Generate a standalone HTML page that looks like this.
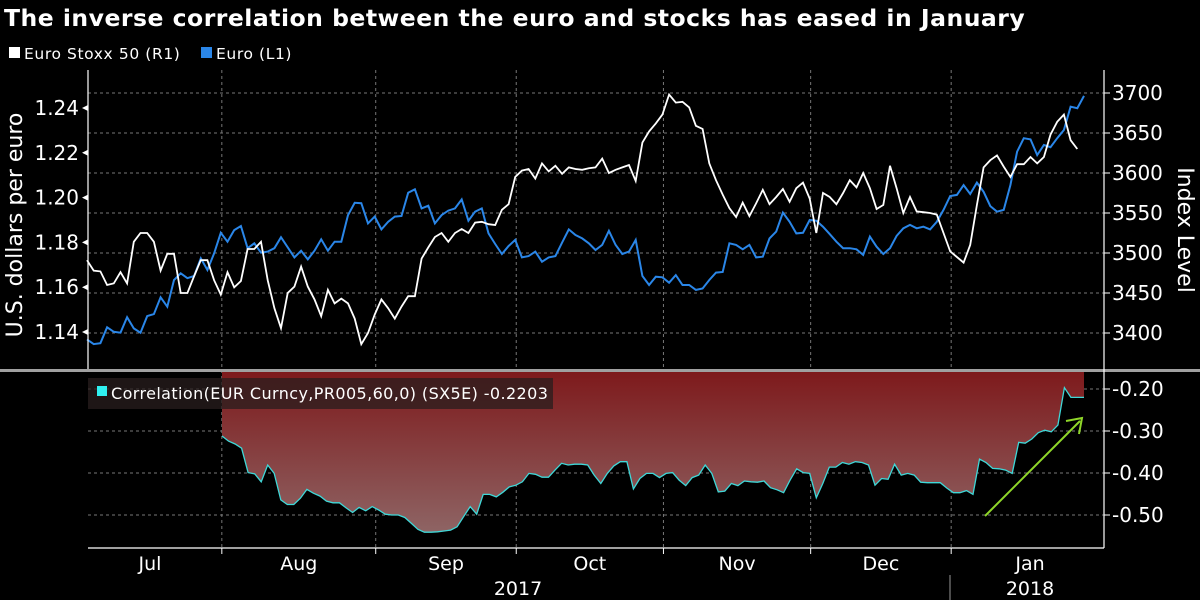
<!DOCTYPE html>
<html><head><meta charset="utf-8"><style>
html,body{margin:0;padding:0;background:#000;width:1200px;height:600px;overflow:hidden}
svg{display:block;font-family:"DejaVu Sans","Liberation Sans",sans-serif}
</style></head><body>
<svg id="chart" width="1200" height="600" viewBox="0 0 1200 600">
<defs>
<linearGradient id="corrGrad" x1="0" y1="0" x2="0" y2="1">
<stop offset="0" stop-color="#7e1a1c"/><stop offset="1" stop-color="#8e6464"/>
</linearGradient>
</defs>
<text x="4" y="26" fill="#fff" font-size="23.5" font-weight="bold" letter-spacing="0.5">The inverse correlation between the euro and stocks has eased in January</text>
<g>
<rect x="9" y="47" width="11" height="11" fill="#fff"/>
<text x="24" y="59" fill="#fff" font-size="15.5" letter-spacing="0.6">Euro Stoxx 50 (R1)</text>
<rect x="201" y="47" width="11" height="11" fill="#2a86e8"/>
<text x="216" y="59" fill="#fff" font-size="15.5" letter-spacing="0.6">Euro (L1)</text>
</g>
<g id="grid"></g>
<g id="lower"></g>
<g id="upper"></g>
<g id="axes"></g>
<text transform="translate(22,225) rotate(-90)" text-anchor="middle" fill="#fff" font-size="22">U.S. dollars per euro</text>
<text transform="translate(1178,230) rotate(90)" text-anchor="middle" fill="#fff" font-size="22">Index Level</text>
</svg>
<script>
const stoxx=[3491,3478,3477,3460,3462,3476,3462,3514,3525,3525,3514,3478,3499,3499,3450,3450,3471,3491,3491,3466,3448,3476,3457,3465,3505,3505,3514,3466,3431,3406,3450,3458,3483,3458,3442,3421,3454,3437,3443,3437,3418,3386,3400,3423,3442,3431,3418,3433,3446,3446,3493,3507,3520,3525,3514,3525,3530,3525,3538,3539,3536,3535,3554,3561,3595,3603,3605,3593,3612,3602,3609,3599,3607,3605,3604,
3606,3607,3618,3600,3604,3607,3610,3590,3638,3652,3662,3673,3698,3688,3689,3682,3659,3655,3612,3591,3573,3556,3545,3563,3546,3562,3579,3561,3570,3580,3564,3581,3588,3568,3525,3575,3570,3561,3575,3591,3582,3600,3581,3555,3560,3609,3581,3550,3570,3552,3551,3550,3548,3525,3502,3495,3488,3510,3560,3607,3616,3622,3608,3595,3611,3611,3620,3612,3620,3648,3664,3673,3641,3630];
const euro=[1.1367,1.1346,1.1350,1.1421,1.1401,1.1397,1.1466,1.1416,1.1397,1.1471,1.1480,1.1555,1.1513,1.1632,1.1662,1.1640,1.1650,1.1729,1.1677,1.1751,1.1843,1.1803,1.1855,1.1873,1.1774,1.1796,1.1754,1.1759,1.1774,1.1823,1.1778,1.1733,1.1763,1.1724,1.1763,1.1814,1.1763,1.1803,1.1803,1.1922,1.1977,1.1975,1.1885,1.1915,1.1858,1.1892,1.1915,1.1918,1.2022,1.2037,1.1952,1.1964,1.1885,1.1922,1.1942,1.1952,1.1992,1.1897,1.1937,1.1952,1.1840,1.1793,1.1748,1.1784,1.1811,1.1733,1.1739,1.1759,1.1714,1.1733,1.1739,1.1799,1.1858,1.1833,1.1818,
1.1796,1.1766,1.1789,1.1852,1.1789,1.1748,1.1759,1.1811,1.1650,1.1610,1.1647,1.1644,1.1620,1.1654,1.1610,1.1610,1.1588,1.1594,1.1632,1.1665,1.1668,1.1796,1.1789,1.1769,1.1789,1.1733,1.1736,1.1818,1.1848,1.1933,1.1892,1.1840,1.1843,1.1900,1.1897,1.1870,1.1837,1.1803,1.1774,1.1774,1.1769,1.1744,1.1826,1.1781,1.1748,1.1774,1.1829,1.1863,1.1878,1.1863,1.1870,1.1858,1.1892,1.1945,1.2007,1.2012,1.2056,1.2016,1.2067,1.2026,1.1962,1.1937,1.1945,1.2056,1.2205,1.2265,1.2260,1.2190,1.2235,1.2225,1.2265,1.2302,1.2406,1.2399,1.2454];
const corr=[-0.312,-0.324,-0.331,-0.341,-0.399,-0.402,-0.421,-0.381,-0.401,-0.464,-0.475,-0.475,-0.460,-0.439,-0.448,-0.455,-0.467,-0.471,-0.471,-0.483,-0.494,-0.482,-0.490,-0.480,-0.488,-0.498,-0.500,-0.500,-0.506,-0.520,-0.534,-0.541,-0.541,-0.540,-0.538,-0.536,-0.528,-0.504,-0.480,-0.498,-0.451,-0.451,-0.457,-0.446,-0.433,-0.429,-0.421,-0.401,-0.403,-0.410,-0.410,-0.393,-0.377,-0.381,-0.379,-0.379,-0.381,-0.405,-0.425,-0.401,-0.383,-0.373,-0.373,-0.438,-0.413,-0.401,-0.401,
-0.411,-0.401,-0.399,-0.417,-0.430,-0.411,-0.405,-0.381,-0.401,-0.445,-0.443,-0.425,-0.430,-0.419,-0.421,-0.422,-0.419,-0.435,-0.440,-0.447,-0.417,-0.390,-0.399,-0.401,-0.459,-0.425,-0.386,-0.386,-0.375,-0.379,-0.373,-0.375,-0.381,-0.429,-0.413,-0.415,-0.379,-0.405,-0.401,-0.405,-0.422,-0.423,-0.423,-0.423,-0.436,-0.447,-0.447,-0.442,-0.451,-0.367,-0.375,-0.389,-0.390,-0.393,-0.401,-0.327,-0.329,-0.319,-0.304,-0.298,-0.302,-0.286,-0.197,-0.220,-0.220,-0.220];
const leftTicks=[1.24,1.22,1.20,1.18,1.16,1.14];
const leftLabels=["1.24","1.22","1.20","1.18","1.16","1.14"];
const rightTicks=[3700,3650,3600,3550,3500,3450,3400];
const rightLabels=["3700","3650","3600","3550","3500","3450","3400"];
const corrTicks=[-0.2,-0.3,-0.4,-0.5];
const corrLabels=["-0.20","-0.30","-0.40","-0.50"];
const months=["Jul","Aug","Sep","Oct","Nov","Dec","Jan"];
const monthStartIdx=[0,20,43,64,86,108,129];
const NS="http://www.w3.org/2000/svg";
const X0=88,X1=1104;
const yL=v=>108+(1.24-v)*2240;
const yR=v=>93+(3700-v)*0.8;
const yC=v=>389+(-0.2-v)*420;
const xIdx=i=>87+i*(1084-87)/(euro.length-1);
const xCorr=i=>222+i*(1084-222)/(corr.length-1);
function mk(tag,attrs,parent){const e=document.createElementNS(NS,tag);for(const k in attrs)e.setAttribute(k,attrs[k]);parent.appendChild(e);return e;}
const grid=document.getElementById('grid'),upper=document.getElementById('upper'),lower=document.getElementById('lower'),axes=document.getElementById('axes');
rightTicks.forEach(v=>{const l=mk('line',{x1:X0,x2:X1,y1:yR(v),y2:yR(v),stroke:'#777','stroke-dasharray':'3,3','stroke-width':1},grid);

});
corrTicks.forEach(v=>{const l=mk('line',{x1:X0,x2:X1,y1:yC(v),y2:yC(v),stroke:'#777','stroke-dasharray':'3,3','stroke-width':1},grid);

});
monthStartIdx.slice(1).forEach(d=>{const x=xIdx(d)+1;const l=mk('line',{x1:x,x2:x,y1:70,y2:548,stroke:'#777','stroke-dasharray':'3,3','stroke-width':1},grid);

});
let pts=corr.map((v,i)=>xCorr(i).toFixed(1)+','+yC(v).toFixed(1));
const area=mk('polygon',{points:xCorr(0)+',372 '+pts.join(' ')+' '+xCorr(corr.length-1)+',372',fill:'url(#corrGrad)'},lower);


const cl=mk('polyline',{points:pts.join(' '),fill:'none',stroke:'#3fd8d8','stroke-width':1.3},lower);


const lb=mk('rect',{x:88,y:378,width:465,height:31,fill:'rgba(40,30,30,0.75)'},lower);


const ls=mk('rect',{x:97,y:386,width:10,height:10,fill:'#2ff0f0'},lower);


const lt=mk('text',{x:111,y:399,fill:'#fff','font-size':16,'letter-spacing':0.4},lower);lt.textContent='Correlation(EUR Curncy,PR005,60,0) (SX5E) -0.2203';


const ar=mk('line',{x1:985,y1:516,x2:1080,y2:421,stroke:'#8fd629','stroke-width':2},lower);


const ah=mk('polyline',{points:'1066,421 1082,418 1079,434',fill:'none',stroke:'#8fd629','stroke-width':2},lower);


const bl=mk('polyline',{points:euro.map((v,i)=>xIdx(i).toFixed(1)+','+yL(v).toFixed(1)).join(' '),fill:'none',stroke:'#2a86e8','stroke-width':2},upper);


const wl=mk('polyline',{points:stoxx.map((v,i)=>xIdx(i).toFixed(1)+','+yR(v).toFixed(1)).join(' '),fill:'none',stroke:'#fff','stroke-width':1.8},upper);


const sep=mk('rect',{x:0,y:369,width:1200,height:3,fill:'#a0a0a0'},axes);


[[88,70,88,369],[1104,70,1104,548],[88,548,1104,548]].forEach(a=>{const l=mk('line',{x1:a[0],y1:a[1],x2:a[2],y2:a[3],stroke:'#fff','stroke-width':1.2},axes);

});
leftTicks.forEach((v,i)=>{const y=yL(v);
const t=mk('polygon',{points:`${82},${y} ${88},${y-3} ${88},${y+3}`,fill:'#fff'},axes);


const tx=mk('text',{x:79,y:y+7,'text-anchor':'end',fill:'#fff','font-size':20},axes);tx.textContent=leftLabels[i];

});
rightTicks.forEach((v,i)=>{const y=yR(v);
const t=mk('line',{x1:1104,x2:1110,y1:y,y2:y,stroke:'#fff'},axes);


const tx=mk('text',{x:1112,y:y+7,fill:'#fff','font-size':20},axes);tx.textContent=rightLabels[i];

});
corrTicks.forEach((v,i)=>{const y=yC(v);
const t=mk('line',{x1:1104,x2:1110,y1:y,y2:y,stroke:'#fff'},axes);


const tx=mk('text',{x:1112,y:y+7,fill:'#fff','font-size':20},axes);tx.textContent=corrLabels[i];

});
months.forEach((m,i)=>{const a=xIdx(monthStartIdx[i])+1,b=i<months.length-1?xIdx(monthStartIdx[i+1])+1:1104;
const xc=i==0?150:(i==6?1030:(a+b)/2);
const tx=mk('text',{x:xc,y:570,'text-anchor':'middle',fill:'#fff','font-size':19},axes);tx.textContent=m;


if(i>0){const t=mk('line',{x1:a,x2:a,y1:548,y2:554,stroke:'#fff'},axes);

}});
const y17=mk('text',{x:518,y:595,'text-anchor':'middle',fill:'#fff','font-size':19},axes);y17.textContent='2017';


const y18=mk('text',{x:1030,y:595,'text-anchor':'middle',fill:'#fff','font-size':19},axes);y18.textContent='2018';


const yd=mk('line',{x1:950,x2:950,y1:575,y2:600,stroke:'#999'},axes);


</script>
</body></html>
